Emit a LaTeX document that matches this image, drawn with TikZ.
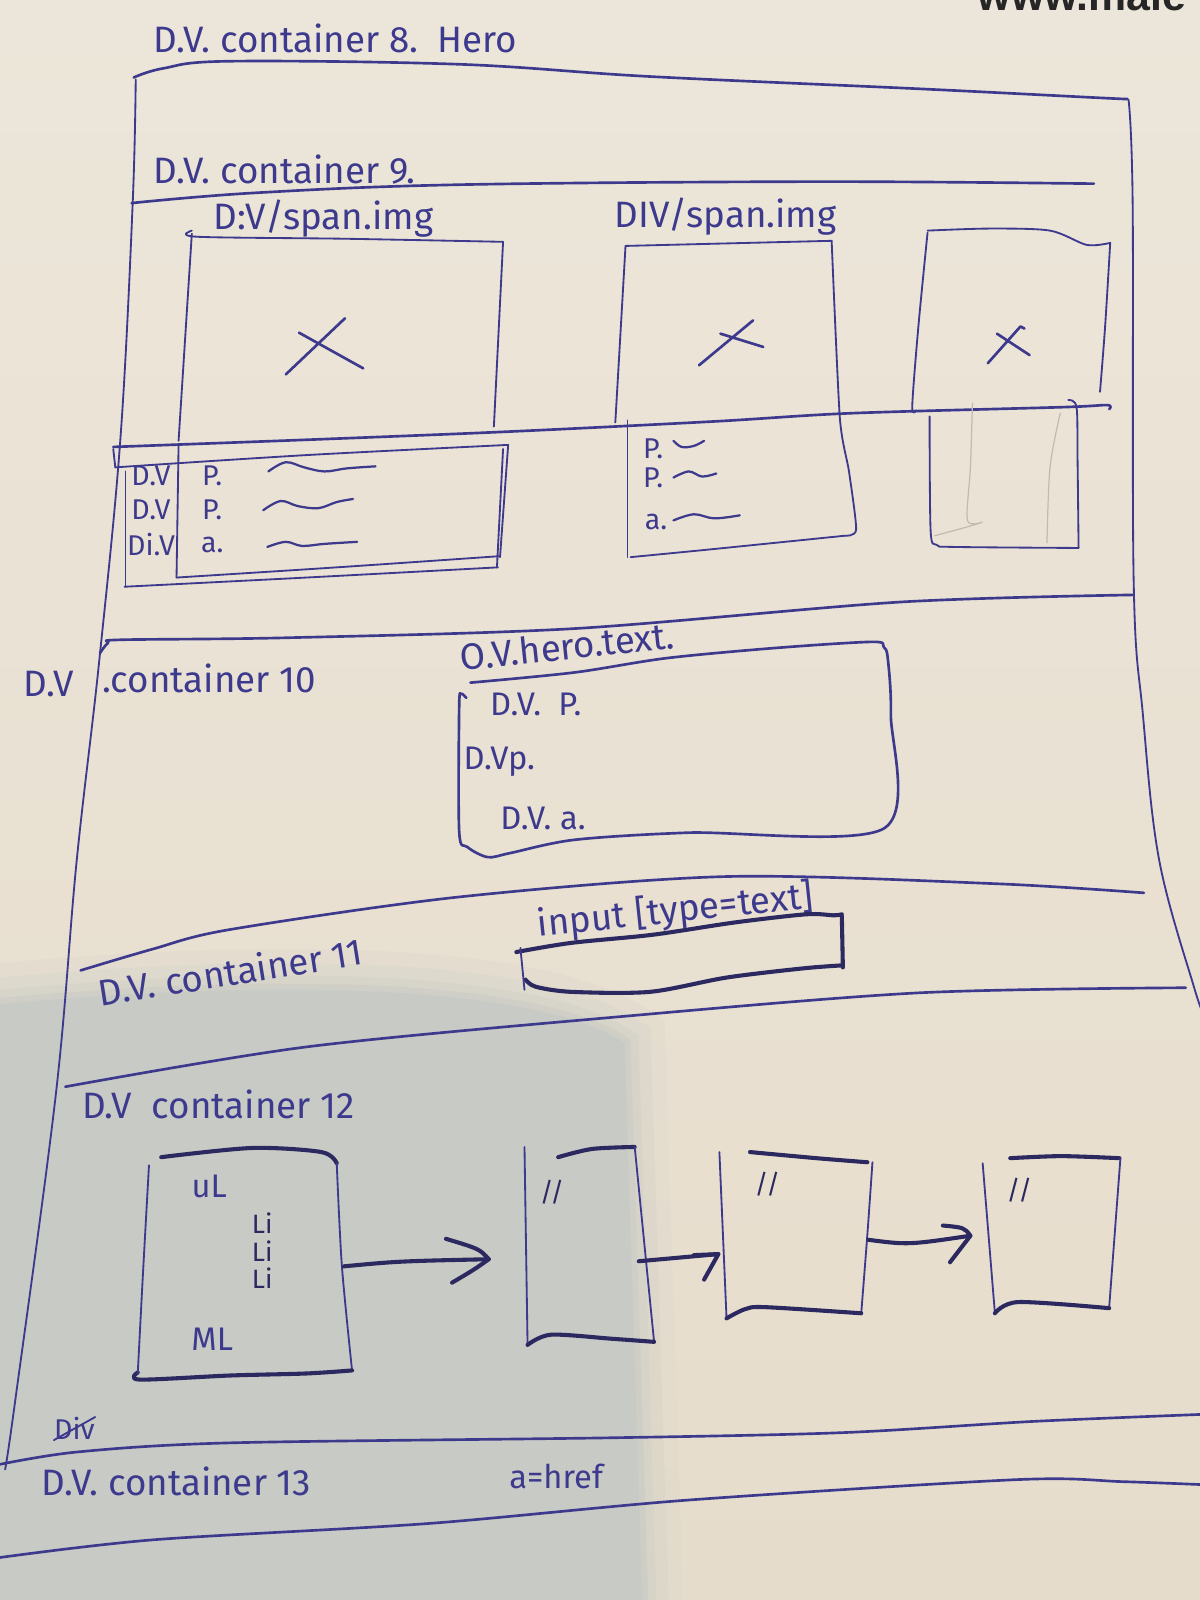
\documentclass[tikz,border=0pt]{standalone}
\usepackage{fontspec}
\setmainfont{Fira Sans}
\newfontfamily\markfont{Liberation Sans}
\definecolor{paperA}{HTML}{ECE6DA}
\definecolor{paperB}{HTML}{E6DCCB}
\definecolor{shadowc}{HTML}{C7CAC5}
\definecolor{inkc}{HTML}{3D3A8E}
\definecolor{inkd}{HTML}{2C2860}
\definecolor{pencil}{HTML}{C2BBAF}
\begin{document}
\begin{tikzpicture}[x=0.5pt,y=-0.5pt,
  pen/.style={draw=inkc,line width=1.3pt,line cap=round,line join=round},
  fine/.style={draw=inkc,line width=0.9pt,line cap=round,line join=round},
  bold/.style={draw=inkd,line width=2pt,line cap=round,line join=round},
  faint/.style={draw=pencil,line width=0.6pt,line cap=round},
  hand/.style={text=inkc,inner sep=0pt,font=\fontsize{18}{20}\selectfont},
  row/.style={text=inkc,inner sep=0pt,font=\fontsize{14}{16}\selectfont},
  ditto/.style={text=inkd,inner sep=0pt,font=\fontsize{13}{15}\selectfont},
  wave/.style={draw=inkc,line width=1.1pt,line cap=round},
]
\useasboundingbox (0,0) rectangle (1176,1568);
\clip (0,0) rectangle (1176,1568);

% paper and the shadow falling on its lower left part
\shade[top color=paperA,bottom color=paperB] (0,0) rectangle (1176,1568);
\foreach \w/\o in {40/0.10,26/0.18,14/0.3,6/0.45}
  \draw[shadowc,line width=\w pt,opacity=\o] (-10,985) .. controls (250,960) and (520,962) .. (612,1022) -- (630,1590);
\fill[shadowc] (-10,985) .. controls (250,960) and (520,962) .. (612,1022) -- (630,1590) -- (-10,1590) -- cycle;

% printed mark in the corner
\node[anchor=base west,inner sep=0,text=black!85,font=\markfont\bfseries\fontsize{21}{21}\selectfont] (mark) at (958,10) {www.male};

% ---------- page frame ----------
\node[hand,anchor=west] (t8) at (150,38) {D.V. container 8.\ \ Hero};
\draw[pen] plot[smooth,tension=.6] coordinates {(131,76)(160,67)(225,60)(450,63)(637,75)(900,87)(1080,96)(1104,97)};
\draw[fine] plot[smooth,tension=.6] coordinates {(133,78)(130,200)(118,430)(97,650)(75,845)(55,1070)(15,1372)(5,1440)};
\draw[fine] plot[smooth,tension=.6] coordinates {(1106,98)(1110,200)(1111,570)(1120,700)(1136,843)(1170,967)(1182,1000)};

% ---------- container 9 ----------
\node[hand,anchor=west] (t9) at (150,166) {D.V. container 9.};
\draw[pen] plot[smooth,tension=.6] coordinates {(129,199)(250,189)(450,181)(800,178)(1072,180)};

\node[hand] (img1) at (317,214) {D:V/span.img};
\node[hand] (img2) at (711,212) {DIV/span.img};

% first card: picture
\draw[fine] plot[smooth,tension=.5] coordinates {(188,226)(193,232)(340,234)(493,237)};
\draw[fine] (188,229) -- (175,432);
\draw[fine] (493,237) -- (484,418);
\draw[pen] (293,326) -- (356,361);
\draw[pen] (338,312) -- (280,367);

% second card: picture
\draw[fine] (613,241) -- (815,236);
\draw[fine] (613,241) -- (603,414);
\draw[fine] plot[smooth,tension=.4] coordinates {(815,236)(823,409)(832,462)(839,519)(828,525)};
\draw[pen] (685,358) -- (738,314);
\draw[pen] (706,327) -- (748,340);

% third card: picture
\draw[fine] plot[smooth,tension=.5] coordinates {(909,226)(970,224)(1029,226)(1065,240)(1088,238)};
\draw[fine] plot[smooth,tension=.5] coordinates {(1088,238)(1083,320)(1078,384)};
\draw[fine] plot[smooth,tension=.5] coordinates {(909,228)(900,320)(894,398)(898,402)};
\draw[pen] (968,356) -- (1000,320) -- (1004,322);
\draw[pen] (977,327) -- (1009,348);

% line under the pictures
\draw[pen] plot[smooth,tension=.5] coordinates {(111,438)(300,431)(498,423)(700,413)(833,405)(1042,399)(1085,397)(1087,401)};

% first card: text block
\draw[fine] plot[smooth,tension=.5] coordinates {(113,458)(300,446)(498,436)};
\draw[fine] (111,440) -- (113,458);
\draw[fine] (498,436) -- (490,546);
\draw[fine] (493,440) -- (487,556);
\draw[fine] (123,462) -- (123,575);
\draw[fine] (175,436) -- (173,566);
\draw[fine] plot[smooth,tension=.5] coordinates {(173,566)(330,556)(490,545)};
\draw[fine] plot[smooth,tension=.5] coordinates {(122,575)(300,566)(488,556)};
\node[row] (r1a) at (148,466) {D.V};
\node[row] (r1b) at (208,466) {P.};
\node[row] (r2a) at (148,500) {D.V};
\node[row] (r2b) at (208,500) {P.};
\node[row] (r3a) at (148,534) {Di.V};
\node[row] (r3b) at (208,534) {a.};
\draw[wave] plot[smooth,tension=.6] coordinates {(263,462)(280,453)(298,458)(318,462)(340,459)(368,457)};
\draw[wave] plot[smooth,tension=.6] coordinates {(258,500)(275,491)(292,496)(312,498)(330,492)(346,489)};
\draw[wave] plot[smooth,tension=.6] coordinates {(262,536)(280,531)(296,535)(318,533)(350,531)};

% second card: text block
\draw[fine] (615,412) -- (615,546);
\draw[fine] plot[smooth,tension=.5] coordinates {(828,525)(700,538)(618,546)};
\node[row] (s1) at (640,440) {P.};
\node[row] (s2) at (640,468) {P.};
\node[row] (s3) at (643,512) {a.};
\draw[wave] plot[smooth,tension=.6] coordinates {(660,432)(668,438)(680,437)(690,432)};
\draw[wave] plot[smooth,tension=.6] coordinates {(660,468)(675,462)(688,467)(702,464)};
\draw[wave] plot[smooth,tension=.6] coordinates {(660,510)(680,504)(700,508)(725,505)};

% third card: empty text block
\draw[fine] plot[smooth,tension=.5] coordinates {(911,408)(912,520)(918,534)(935,536)(1057,537)};
\draw[fine] plot[smooth,tension=.5] coordinates {(1057,537)(1056,450)(1055,399)(1047,392)};
\draw[faint] plot[smooth,tension=.5] coordinates {(953,395)(951,458)(948,510)(962,512)(916,525)};
\draw[faint] plot[smooth,tension=.5] coordinates {(1039,405)(1029,458)(1026,532)};

% ---------- container 10 ----------
\draw[pen] plot[smooth,tension=.5] coordinates {(98,640)(106,630)(118,627)(281,625)(563,616)(882,590)(1110,583)};
\node[hand] (d10) at (48,670) {D.V};
\node[hand,anchor=west] (t10) at (100,665) {.container 10};

\node[hand,rotate=6] (hero) at (556,633) {O.V.hero.text.};
\draw[pen] plot[smooth,tension=.5] coordinates {(461,669)(563,659)(653,645)(760,635)(855,629)(866,634)(870,645)(873,700)(866,812)(675,816)(563,823)(500,836)(478,840)(458,830)(450,815)(450,692)(452,680)(457,684)};
\node[row,anchor=west,font=\fontsize{16}{18}\selectfont] (h1) at (480,690) {D.V.\ \ P.};
\node[row,anchor=west,font=\fontsize{16}{18}\selectfont] (h2) at (454,746) {D.Vp.};
\node[row,anchor=west,font=\fontsize{16}{18}\selectfont] (h3) at (490,802) {D.V.\ a.};

% ---------- container 11 ----------
\draw[pen] plot[smooth,tension=.5] coordinates {(79,951)(150,930)(225,911)(450,879)(712,859)(975,866)(1121,875)};
\node[hand,rotate=9] (t11) at (226,952) {D.V.\ container 11};
\node[hand,rotate=6] (inp) at (662,893) {input [type=text]};
\draw[bold] plot[smooth,tension=.5] coordinates {(506,933)(560,924)(640,916)(720,904)(790,896)(817,897)(825,896)};
\draw[bold] (825,898) -- (826,948);
\draw[bold] plot[smooth,tension=.5] coordinates {(826,946)(787,949)(712,958)(637,972)(560,972)(525,967)(515,960)};
\draw[fine] (510,929) -- (514,970);

% ---------- container 12 ----------
\draw[pen] plot[smooth,tension=.5] coordinates {(64,1065)(300,1026)(600,997)(900,973)(1162,968)};
\node[hand,anchor=west] (t12) at (80,1082) {D.V\ \ container 12};

% list box
\draw[bold] plot[smooth,tension=.5] coordinates {(158,1134)(247,1125)(315,1129)(330,1140)};
\draw[fine] plot[smooth,tension=.5] coordinates {(330,1140)(335,1240)(345,1343)};
\draw[bold] plot[smooth,tension=.5] coordinates {(345,1343)(300,1346)(225,1348)(137,1352)(135,1345)};
\draw[fine] plot[smooth,tension=.5] coordinates {(146,1142)(140,1250)(135,1346)};
\node[hand,font=\fontsize{16}{18}\selectfont] (ul) at (205,1163) {uL};
\node[ditto] (li1) at (257,1199) {Li};
\node[ditto] (li2) at (257,1226) {Li};
\node[ditto] (li3) at (257,1253) {Li};
\node[hand,font=\fontsize{16}{18}\selectfont] (ml) at (208,1312) {ML};

% slides
\draw[fine] (514,1124) -- (517,1318);
\draw[bold] plot[smooth,tension=.5] coordinates {(547,1134)(580,1126)(622,1124)};
\draw[fine] (622,1124) -- (641,1315);
\draw[bold] plot[smooth,tension=.5] coordinates {(517,1318)(540,1308)(600,1312)(641,1315)};
\node[ditto] (d1) at (541,1168) {//};

\draw[fine] (705,1129) -- (712,1292);
\draw[bold] plot[smooth,tension=.5] coordinates {(735,1129)(800,1135)(850,1139)};
\draw[fine] plot[smooth,tension=.5] coordinates {(855,1139)(850,1210)(844,1287)};
\draw[bold] plot[smooth,tension=.5] coordinates {(712,1292)(730,1283)(750,1281)(844,1287)};
\node[ditto] (d2) at (752,1160) {/\kern-1pt/};

\draw[fine] (963,1140) -- (975,1287);
\draw[bold] plot[smooth,tension=.5] coordinates {(990,1135)(1040,1133)(1097,1135)};
\draw[fine] (1098,1135) -- (1087,1281);
\draw[bold] plot[smooth,tension=.5] coordinates {(975,1287)(998,1276)(1087,1282)};
\node[ditto] (d3) at (999,1166) {/\kern-1pt/};

% arrows between the slides
\coordinate (a1s) at (337,1241);
\coordinate (a1e) at (479,1234);
\coordinate (h1a) at (437,1214);
\coordinate (h1b) at (443,1257);
\draw[bold] (a1s) .. controls (390,1236) .. (a1e);
\draw[bold] (h1a) .. controls (470,1224) .. (a1e) .. controls (465,1244) .. (h1b);

\coordinate (a2s) at (626,1236);
\coordinate (a2e) at (704,1229);
\coordinate (h2a) at (680,1230);
\coordinate (h2b) at (690,1254);
\draw[bold] (a2s) -- (a2e);
\draw[bold] (h2a) -- (a2e) -- (h2b);

\coordinate (a3s) at (851,1215);
\coordinate (a3e) at (951,1211);
\coordinate (h3a) at (924,1201);
\coordinate (h3b) at (931,1237);
\draw[bold] (a3s) .. controls (890,1220) .. (a3e);
\draw[bold] (h3a) .. controls (945,1203) .. (a3e) -- (h3b);

% ---------- footer ----------
\node[hand,font=\fontsize{14}{16}\selectfont] (div) at (73,1400) {Div};
\draw[fine] (div.south west) -- (div.north east);
\draw[pen] plot[smooth,tension=.5] coordinates {(-5,1436)(75,1423)(225,1414)(600,1409)(825,1404)(1012,1393)(1180,1386)};
\node[hand,anchor=west] (t13) at (40,1452) {D.V.\ container 13};
\node[hand,font=\fontsize{16}{18}\selectfont] (href) at (545,1447) {a=href};
\draw[pen] plot[smooth,tension=.5] coordinates {(-5,1527)(150,1509)(420,1493)(675,1470)(997,1450)(1100,1452)(1180,1455)};
\end{tikzpicture}
\end{document}
